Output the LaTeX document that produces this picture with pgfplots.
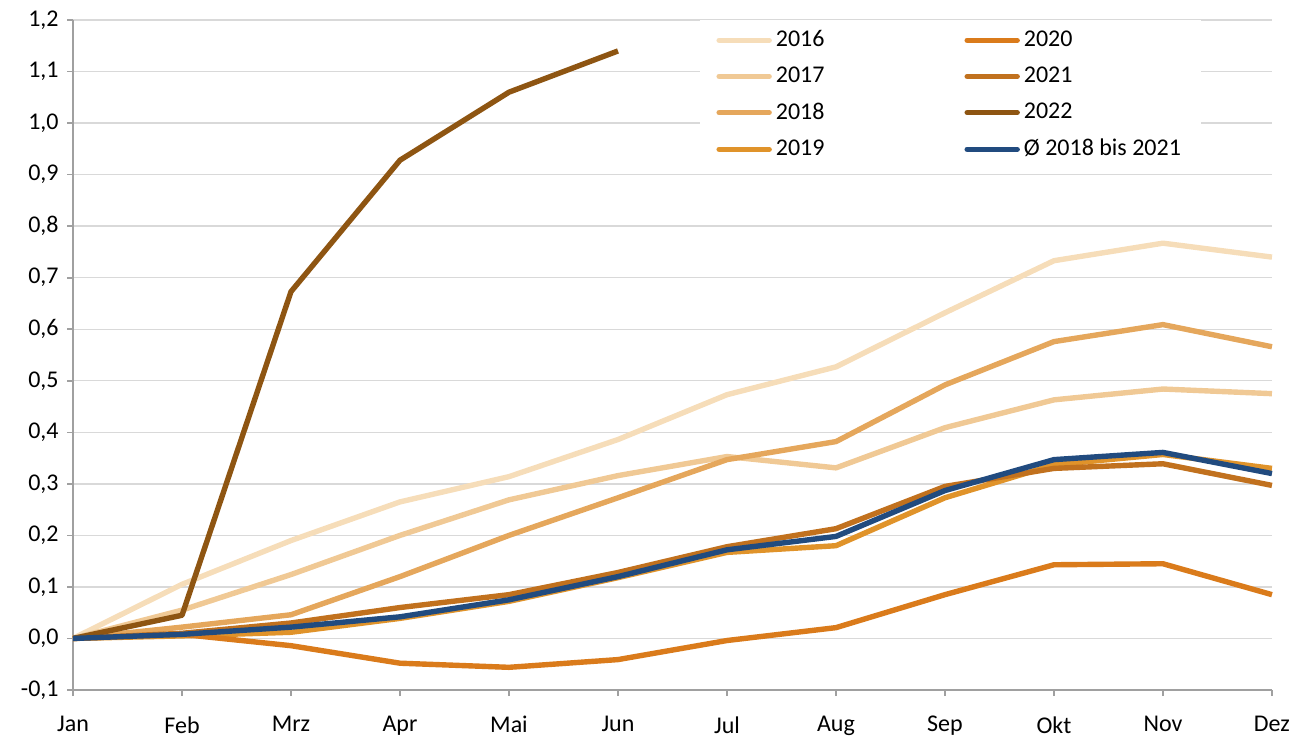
\documentclass[border=0pt]{standalone}
\usepackage{pgfplots}
\pgfplotsset{compat=1.18}
\usepackage{fontspec}
\setmainfont{Carlito}
\definecolor{c16}{HTML}{F6DDB9}
\definecolor{c17}{HTML}{F0C995}
\definecolor{c18}{HTML}{E5A75C}
\definecolor{c19}{HTML}{E0932A}
\definecolor{c20}{HTML}{DA7B1B}
\definecolor{c21}{HTML}{C1711E}
\definecolor{c22}{HTML}{8E5512}
\definecolor{cavg}{HTML}{214B7F}
\definecolor{axgray}{HTML}{A0A0A0}
\definecolor{gridgray}{HTML}{D9D9D9}
\begin{document}
\fontsize{12}{14}\selectfont
\begin{tikzpicture}
\begin{axis}[
  scale only axis,
  width=599.5pt, height=335pt,
  xmin=0, xmax=11, ymin=-0.1, ymax=1.2,
  xtick={0,1,2,3,4,5,6,7,8,9,10,11},
  xticklabels={Jan,Feb,Mrz,Apr,Mai,Jun,Jul,Aug,Sep,Okt,Nov,Dez},
  ytick={-0.1,0,0.1,0.2,0.3,0.4,0.5,0.6,0.7,0.8,0.9,1.0,1.1,1.2},
  axis lines*=left,
  axis line style={axgray, line width=0.8pt, -},
  tick style={axgray, line width=0.8pt},
  major tick length=3pt,
  tick align=outside,
  ymajorgrids,
  grid style={gridgray, line width=0.7pt},
  /pgf/number format/assume math mode=true,
  /pgf/number format/.cd, fixed, fixed zerofill, precision=1, use comma,
  /pgfplots/.cd,
  yticklabel style={font=\fontsize{12}{14}\selectfont},
  xticklabel style={font=\fontsize{12}{14}\selectfont, yshift=-6pt},
  clip=false,
  legend style={at={(rel axis cs:0.523,1.0)}, anchor=north west, draw=none, fill=white,
    font=\fontsize{12}{14}\selectfont, row sep=4.3pt, inner xsep=8pt, inner ysep=3pt},
  legend cell align=left,
  transpose legend,
  legend columns=4,
  /tikz/every even column/.append style={column sep=68pt},
  legend image code/.code={\draw[#1, line cap=round] (0pt,0pt) -- (25pt,0pt);},
  every axis plot/.append style={line width=2.7pt, line join=round},
]
\path (rel axis cs:-0.0609,-0.0716) rectangle (rel axis cs:1.0259,1.0299);
\addplot[c16] coordinates {(0,0) (1,0.105) (2,0.19) (3,0.265) (4,0.314) (5,0.386) (6,0.473) (7,0.527) (8,0.632) (9,0.733) (10,0.767) (11,0.740)};
\addlegendentry{2016}
\addplot[c17] coordinates {(0,0) (1,0.055) (2,0.124) (3,0.200) (4,0.269) (5,0.316) (6,0.353) (7,0.331) (8,0.409) (9,0.463) (10,0.484) (11,0.475)};
\addlegendentry{2017}
\addplot[c18] coordinates {(0,0) (1,0.022) (2,0.046) (3,0.120) (4,0.200) (5,0.273) (6,0.347) (7,0.382) (8,0.492) (9,0.576) (10,0.609) (11,0.566)};
\addlegendentry{2018}
\addplot[c19] coordinates {(0,0) (1,0.005) (2,0.012) (3,0.039) (4,0.072) (5,0.118) (6,0.167) (7,0.180) (8,0.273) (9,0.337) (10,0.357) (11,0.330)};
\addlegendentry{2019}
\addplot[c20] coordinates {(0,0) (1,0.008) (2,-0.014) (3,-0.048) (4,-0.056) (5,-0.041) (6,-0.004) (7,0.021) (8,0.085) (9,0.143) (10,0.145) (11,0.085)};
\addlegendentry{2020}
\addplot[c21] coordinates {(0,0) (1,0.010) (2,0.030) (3,0.060) (4,0.085) (5,0.128) (6,0.178) (7,0.213) (8,0.295) (9,0.330) (10,0.339) (11,0.297)};
\addlegendentry{2021}
\addplot[c22] coordinates {(0,0) (1,0.045) (2,0.673) (3,0.928) (4,1.060) (5,1.140)};
\addlegendentry{2022}
\addplot[cavg] coordinates {(0,0) (1,0.008) (2,0.022) (3,0.042) (4,0.075) (5,0.120) (6,0.172) (7,0.198) (8,0.287) (9,0.347) (10,0.361) (11,0.320)};
\addlegendentry{Ø 2018 bis 2021}
\end{axis}
\end{tikzpicture}
\end{document}
